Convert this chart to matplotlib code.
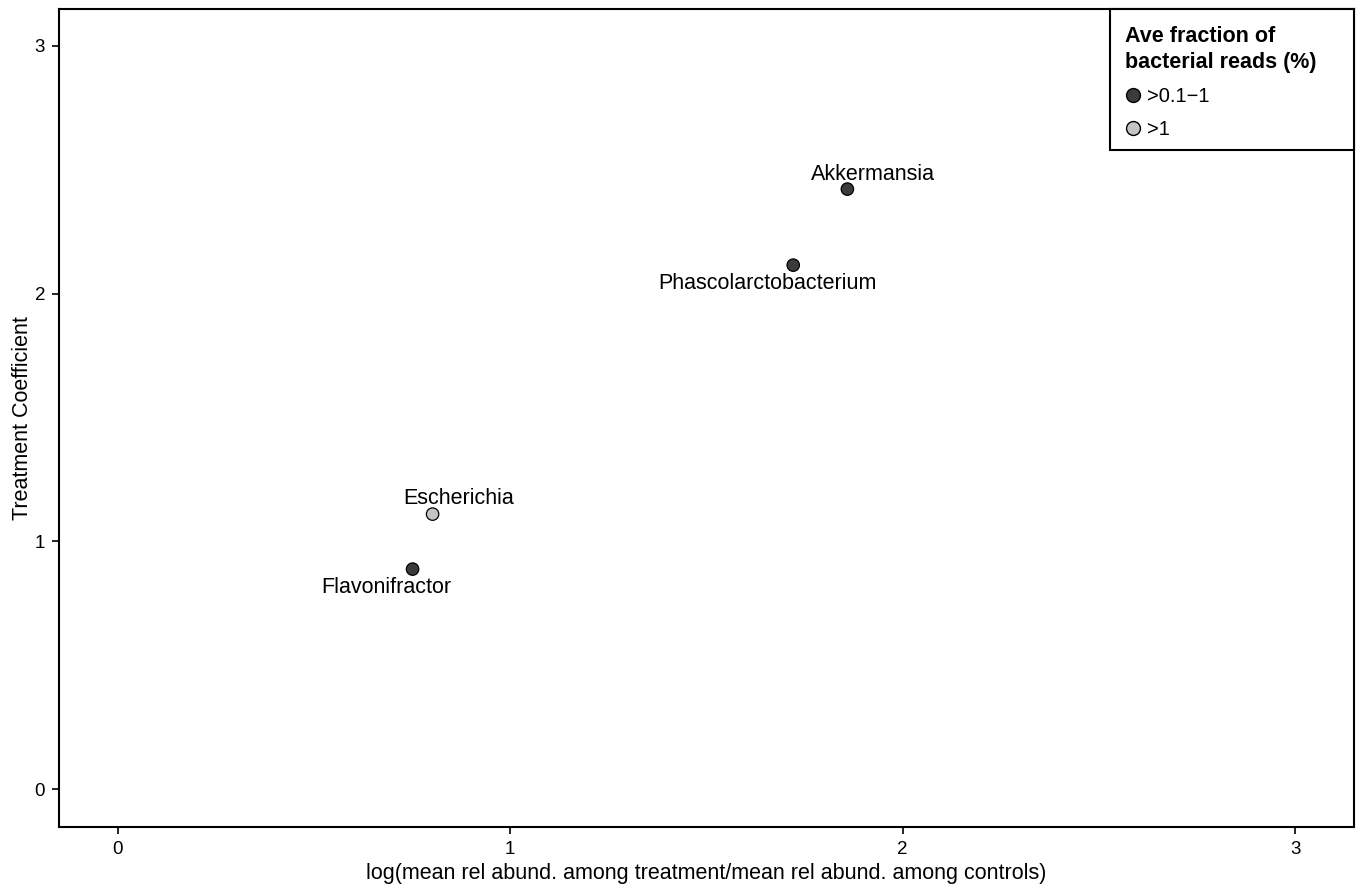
import matplotlib
matplotlib.use("Agg")
import matplotlib.pyplot as plt
from matplotlib.lines import Line2D
from matplotlib.patches import Rectangle

plt.rcParams['font.family'] = ['Liberation Sans', 'DejaVu Sans']

# Genera with log fold change and treatment coefficient
genera = ["Akkermansia", "Phascolarctobacterium", "Escherichia", "Flavonifractor"]
log_ratio = [1.859, 1.721, 0.802, 0.751]
coefficient = [2.422, 2.115, 1.110, 0.888]
abundance_group = [">0.1\u22121", ">0.1\u22121", ">1", ">0.1\u22121"]

group_names = [">0.1\u22121", ">1"]
group_colors = {">0.1\u22121": "#3b3b3b", ">1": "#c4c4c4"}

# label offsets in pixels (dx, dy) relative to each point
label_offsets = [(26, 15), (-26, -18), (26, 16), (-26, -18)]

x_ticks = [0, 1, 2, 3]
y_ticks = [0, 1, 2, 3]

W, H = 1361, 884
fig = plt.figure(figsize=(W / 100, H / 100), dpi=100)
ax = fig.add_axes([59 / W, 57 / H, (1354 - 59) / W, (827 - 9) / H])

colors = [group_colors[g] for g in abundance_group]
ax.scatter(log_ratio, coefficient, s=80, c=colors, edgecolors="black",
           linewidths=0.9, zorder=3)

for name, x, y, (dx, dy) in zip(genera, log_ratio, coefficient, label_offsets):
    ax.annotate(name, (x, y), xytext=(dx, dy), textcoords="offset pixels",
                ha="center", va="center", fontsize=15.5, color="black")

ax.set_xlim(-0.15, 3.15)
ax.set_ylim(-0.153, 3.149)
ax.set_xticks(x_ticks)
ax.set_yticks(y_ticks)
ax.tick_params(axis="both", length=5, width=1.2, labelsize=13.5, color="black",
               pad=5)
for sp in ax.spines.values():
    sp.set_linewidth(1.5)

ax.set_xlabel("log(mean rel abund. among treatment/mean rel abund. among controls)",
              fontsize=15.5, labelpad=4)
ax.set_ylabel("Treatment Coefficient", fontsize=15.5, labelpad=1)

# legend box in the top-right corner
fig.patches.append(Rectangle((1110 / W, 1 - 150 / H), (1354 - 1110) / W,
                             (150 - 9) / H, transform=fig.transFigure,
                             facecolor="white", edgecolor="black",
                             linewidth=1.5, zorder=5))

handles = [Line2D([], [], marker="o", linestyle="none", markersize=10,
                  markerfacecolor=group_colors[g], markeredgecolor="black",
                  markeredgewidth=1.0) for g in group_names]
leg = fig.legend(handles, group_names, title="Ave fraction of\nbacterial reads (%)",
                 loc="upper left", bbox_to_anchor=(1125 / W, 1 - 26 / H),
                 bbox_transform=fig.transFigure, borderaxespad=0,
                 frameon=False, fontsize=14.5,
                 title_fontproperties={"weight": "bold", "size": 15.5},
                 alignment="left", handletextpad=0.3, handlelength=0.8,
                 labelspacing=0.7, borderpad=0)
leg.get_title().set_linespacing(1.3)
leg.set_zorder(6)

fig.savefig("out.png", dpi=100)
